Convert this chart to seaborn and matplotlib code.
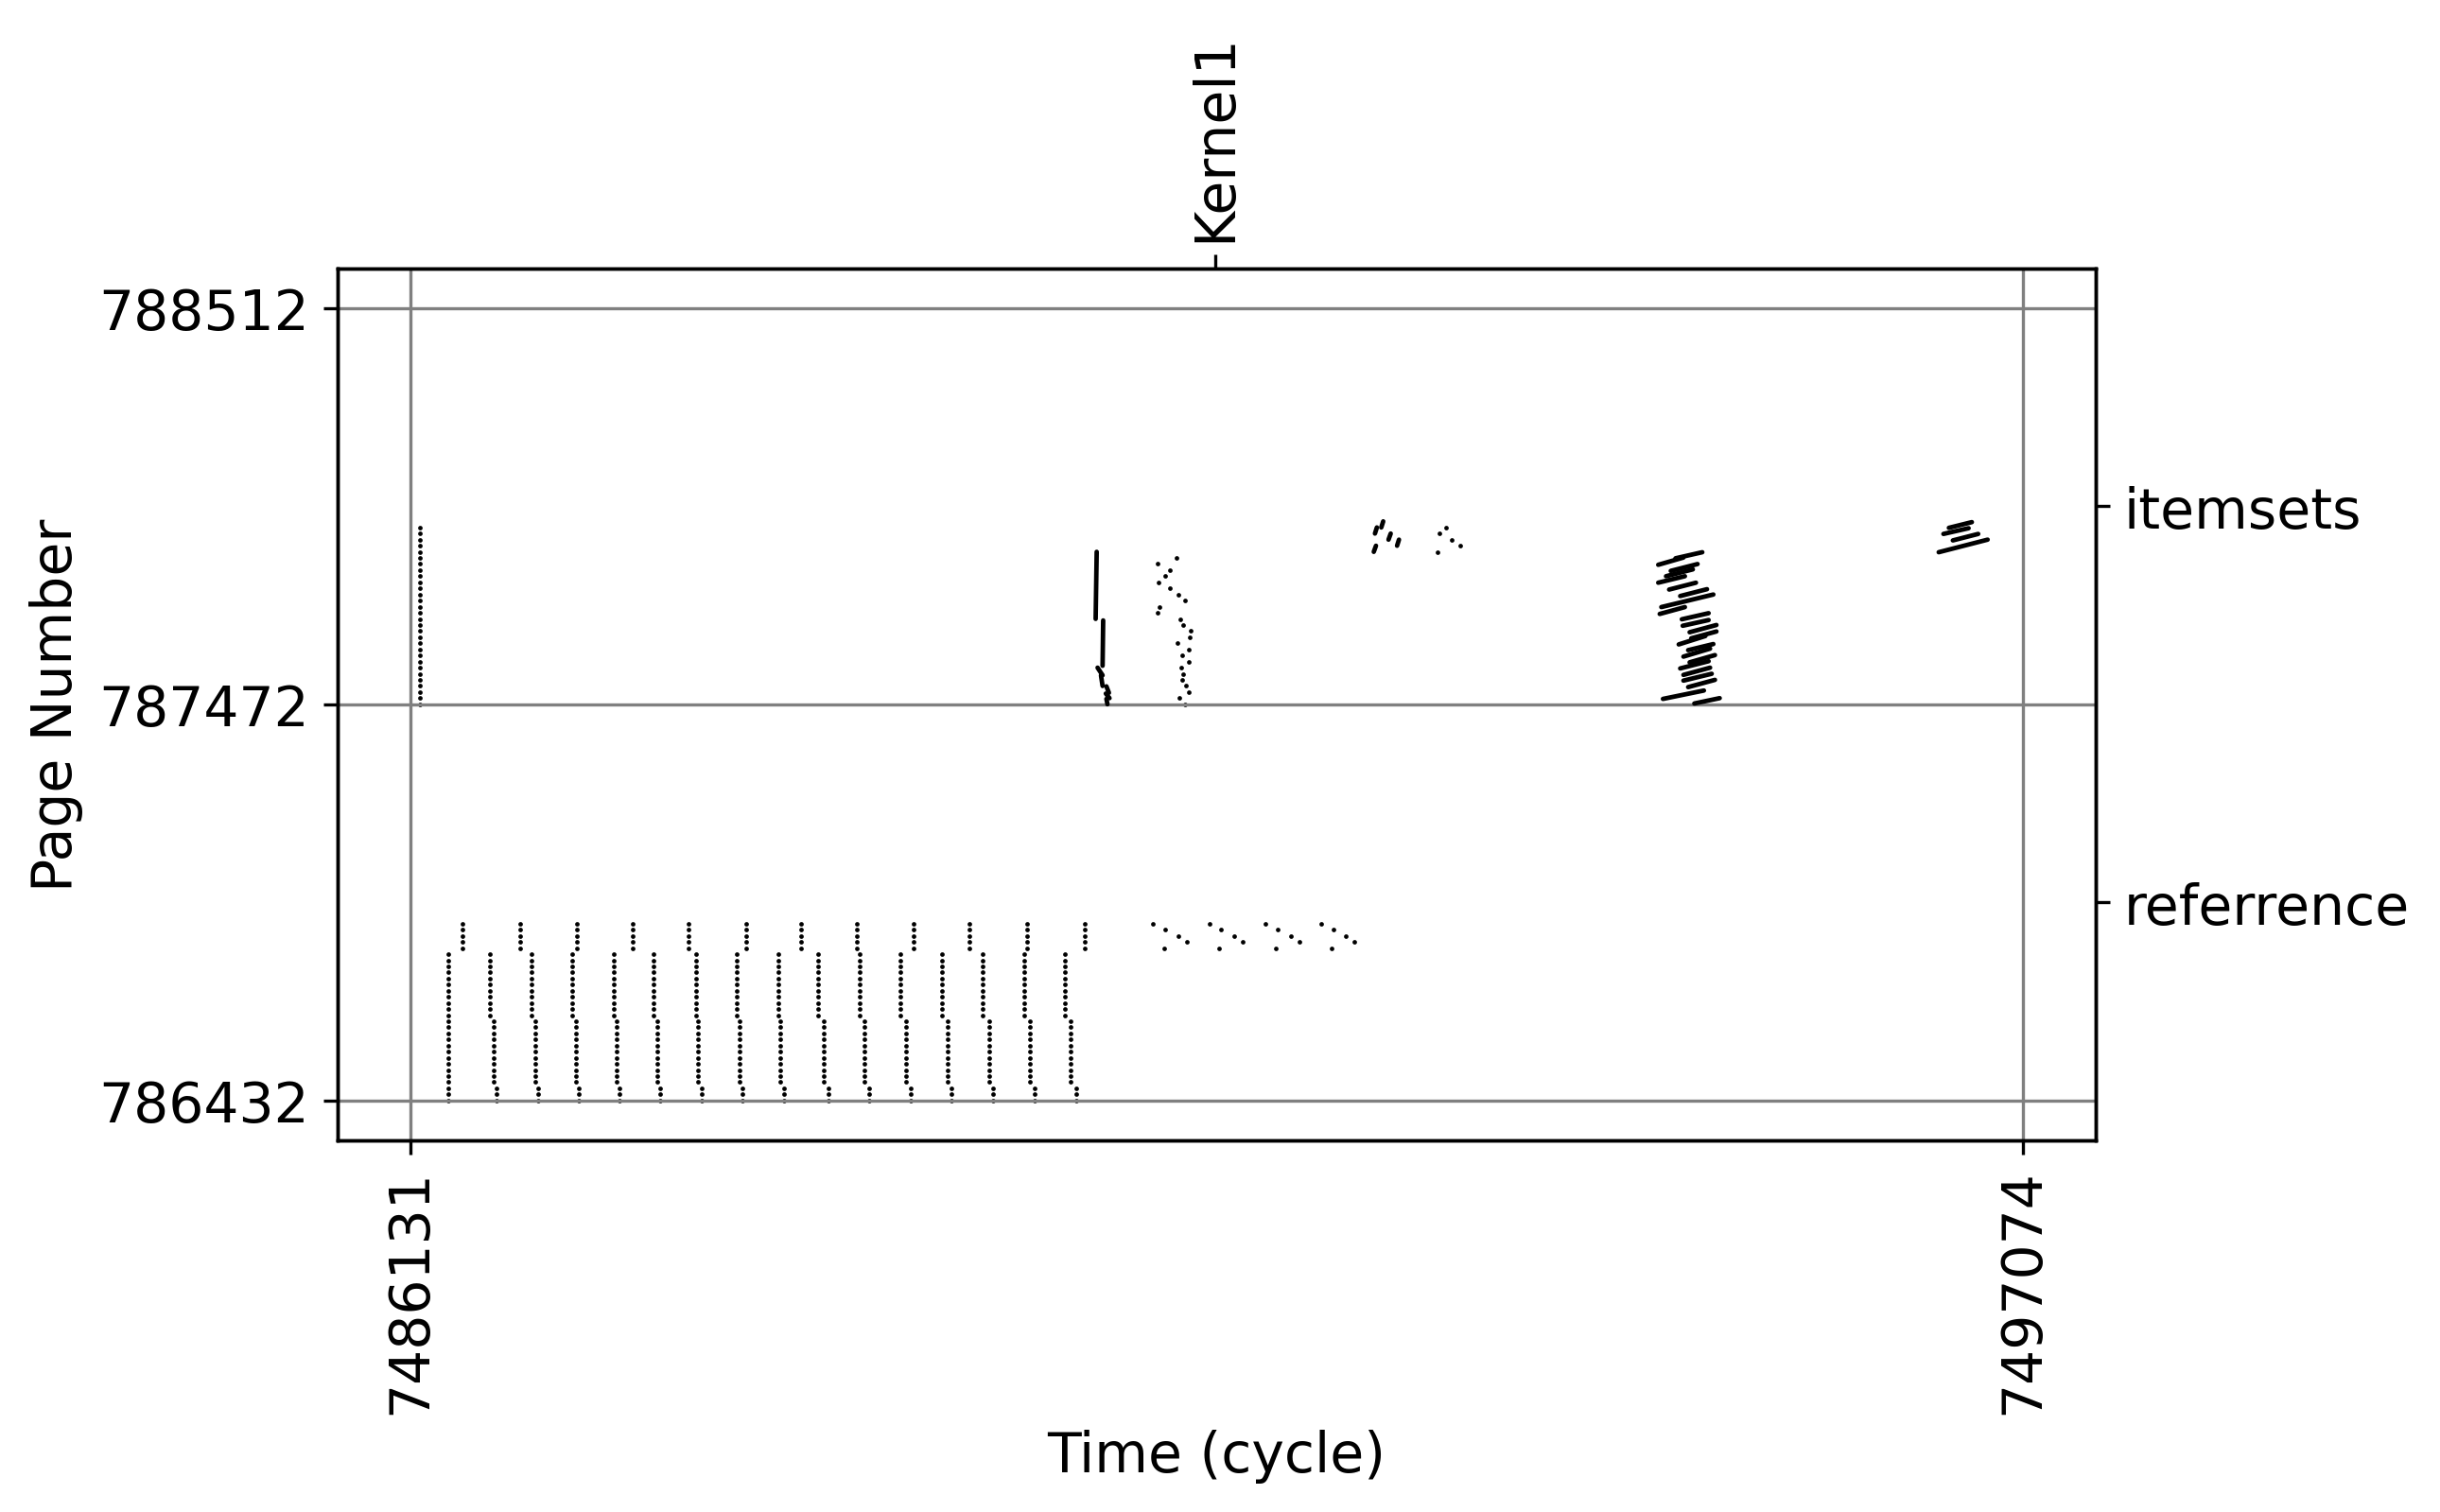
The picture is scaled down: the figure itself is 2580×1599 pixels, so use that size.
import numpy as np
import pandas as pd
import matplotlib
matplotlib.use("Agg")
import matplotlib.pyplot as plt
import seaborn as sns

# ---- data (time in cycles, page numbers) ----
x_ticks = [7486131, 7497074]
y_ticks = [786432, 787472, 788512]
kernel_start = 7491593
region_names = ["referrence", "itemsets"]
region_mid = [786952, 787992]

# referrence: 16 sweeps, each column split in parts drawn at slightly different times
ref_pages_bottom = [786432, 786448, 786464]
ref_pages_lower = [786480, 786496, 786512, 786528, 786544, 786560, 786576, 786592,
                   786608, 786624, 786640]
ref_pages_upper = [786656, 786672, 786688, 786704, 786720, 786736, 786752, 786768,
                   786784, 786800, 786816]
ref_pages_short = [786832, 786848, 786864, 786880, 786896]

ref_t_upper = [7486388, 7486673, 7486953, 7487232, 7487511, 7487784, 7488069, 7488348,
               7488627, 7488900, 7489179, 7489458, 7489737, 7490016, 7490295, 7490574]
ref_t_lower = [7486388, 7486695, 7486978, 7487254, 7487533, 7487806, 7488084, 7488363,
               7488642, 7488937, 7489216, 7489495, 7489780, 7490060, 7490339, 7490611]
ref_t_bottom = [7486388, 7486720, 7486999, 7487272, 7487551, 7487830, 7488109, 7488385,
                7488667, 7488968, 7489247, 7489526, 7489805, 7490084, 7490368, 7490649]
ref_t_short = [7486488, 7486875, 7487263, 7487641, 7488022, 7488409, 7488782, 7489164,
               7489548, 7489923, 7490317, 7490705]

# the last four short sweeps are spread out in time (pages top -> bottom)
diag_pages = [786896, 786880, 786864, 786848, 786832]
diag_t1 = [7491171, 7491252, 7491341, 7491400, 7491244]
diag_t2 = [7491552, 7491633, 7491725, 7491781, 7491622]
diag_t3 = [7491931, 7492014, 7492106, 7492162, 7492006]
diag_t4 = [7492310, 7492393, 7492482, 7492538, 7492382]

# itemsets
item_first_t = 7486197
item_pages = [787472, 787488, 787504, 787520, 787536, 787552, 787568, 787584, 787600,
              787616, 787632, 787648, 787664, 787680, 787696, 787712, 787728, 787744,
              787760, 787776, 787792, 787808, 787824, 787840, 787856, 787872, 787888,
              787904, 787920, 787936]
item_scan_t = [7491389, 7491349, 7491415, 7491394, 7491368, 7491376, 7491364, 7491411,
               7491368, 7491411, 7491338, 7491418, 7491428, 7491373, 7491353, 7491203,
               7491212, 7491387, 7491344, 7491283, 7491208, 7491251, 7491283, 7491203,
               7491332]
item_late_pages = [787936, 787920, 787904, 787888, 787872]
item_late_t = [7493159, 7493114, 7493195, 7493253, 7493103]

# dense runs (start time, start page, end time, end page)
run_t0 = [7490789, 7490833, 7490795, 7490818, 7490855, 7490851, 7490855,
          7492720, 7492677, 7492769, 7492827, 7492669,
          7494599, 7494716, 7494684, 7494652, 7494599, 7494673, 7494748, 7494620,
          7494609, 7494759, 7494765, 7494812, 7494823, 7494738, 7494802, 7494770,
          7494812, 7494748, 7494770, 7494770, 7494802, 7494631, 7494844,
          7496571, 7496534, 7496598, 7496502]
run_p0 = [787872, 787692, 787568, 787548, 787519, 787500, 787486,
          787936, 787920, 787904, 787888, 787872,
          787838, 787855, 787822, 787808, 787791, 787773, 787756, 787727,
          787709, 787695, 787678, 787661, 787645, 787629, 787614, 787597,
          787582, 787566, 787549, 787534, 787517, 787486, 787474,
          787935, 787919, 787902, 787871]
run_t1 = [7490782, 7490829, 7490829, 7490829, 7490872, 7490876, 7490862,
          7492733, 7492690, 7492784, 7492840, 7492684,
          7494770, 7494898, 7494866, 7494834, 7494780, 7494855, 7494930, 7494973,
          7494780, 7494941, 7494941, 7494994, 7494994, 7494919, 7494973, 7494951,
          7494984, 7494941, 7494951, 7494962, 7494984, 7494909, 7495016,
          7496727, 7496705, 7496770, 7496834]
run_p1 = [787696, 787573, 787548, 787520, 787502, 787488, 787472,
          787952, 787936, 787920, 787904, 787888,
          787857, 787871, 787840, 787826, 787808, 787791, 787774, 787760,
          787727, 787711, 787693, 787680, 787663, 787651, 787630, 787618,
          787601, 787585, 787568, 787552, 787536, 787508, 787488,
          787950, 787934, 787919, 787904]

# ---- assemble the point table ----
rows = []
for i in range(len(ref_t_upper)):
    for p in ref_pages_bottom:
        rows.append((ref_t_bottom[i], p))
    for p in ref_pages_lower:
        rows.append((ref_t_lower[i], p))
    for p in ref_pages_upper:
        rows.append((ref_t_upper[i], p))
for t in ref_t_short:
    for p in ref_pages_short:
        rows.append((t, p))
for grp in [diag_t1, diag_t2, diag_t3, diag_t4]:
    for t, p in zip(grp, diag_pages):
        rows.append((t, p))
for p in item_pages:
    rows.append((item_first_t, p))
for t, p in zip(item_scan_t, item_pages[:25]):
    rows.append((t, p))
for t, p in zip(item_late_t, item_late_pages):
    rows.append((t, p))

df = pd.DataFrame(rows, columns=["cycle", "page"])

plt.rcParams["font.size"] = 14

fig = plt.figure(figsize=(8.6, 5.3333), dpi=300)
ax = fig.add_subplot(111)
fig.subplots_adjust(left=0.1382, right=0.859, bottom=0.2458, top=0.822)

sns.scatterplot(data=df, x="cycle", y="page", ax=ax, color="black", marker="o",
                s=1.3, linewidth=0, legend=False)
for t0, p0, t1, p1 in zip(run_t0, run_p0, run_t1, run_p1):
    ax.plot([t0, t1], [p0, p1], color="black", lw=1.15, solid_capstyle="round")

xpad = 495
ypad = 104
ax.set_xlim(x_ticks[0] - xpad, x_ticks[1] + xpad)
ax.set_ylim(y_ticks[0] - ypad, y_ticks[-1] + ypad)
ax.set_xticks(x_ticks)
ax.set_xticklabels([str(v) for v in x_ticks], rotation=90)
ax.set_yticks(y_ticks)
ax.set_yticklabels([str(v) for v in y_ticks])
ax.grid(True, color="gray")
ax.set_xlabel("Time (cycle)")
ax.set_ylabel("Page Number")

# region names on the right
ax2 = ax.twinx()
ax2.set_ylim(ax.get_ylim())
ax2.set_yticks(region_mid)
ax2.set_yticklabels(region_names)

# kernel marker on top
ax3 = ax.twiny()
ax3.set_xlim(ax.get_xlim())
ax3.set_xticks([kernel_start])
ax3.set_xticklabels(["Kernel1"], rotation=90)

fig.savefig("out.png", dpi=300)
